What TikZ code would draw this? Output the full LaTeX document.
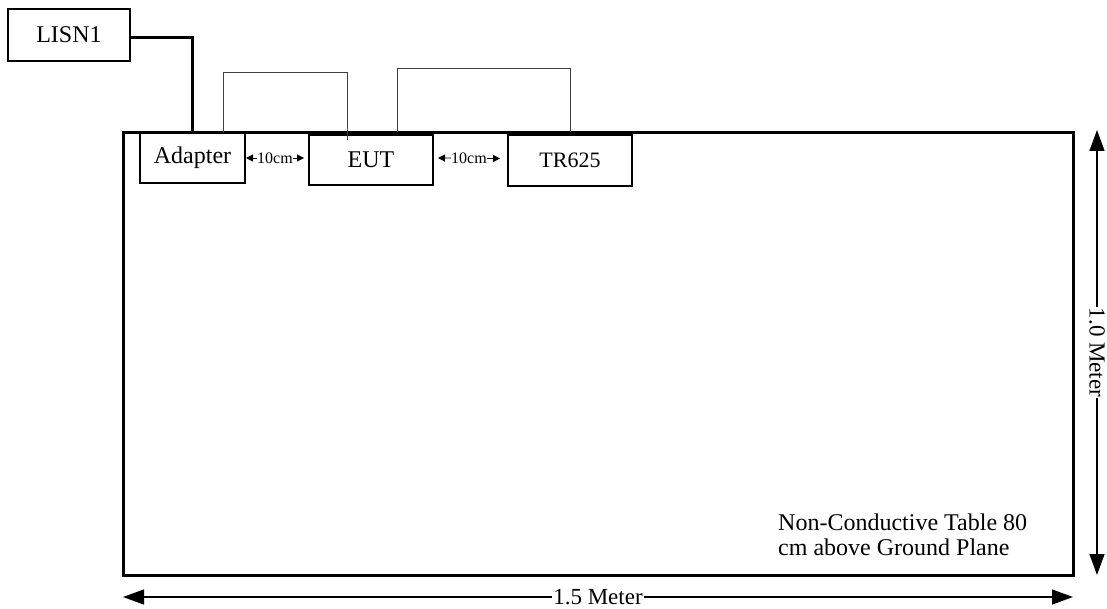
\documentclass[tikz,border=0pt]{standalone}
\usepackage{fontspec}
\setmainfont{Liberation Serif}
\usetikzlibrary{arrows.meta}

\begin{document}
\begin{tikzpicture}[x=1pt, y=-1pt, line join=miter,
	box/.style={draw, line width=1.3pt, fill=white, inner sep=0pt, outer sep=0pt, font=\fontsize{24}{26}\selectfont},
	tablebox/.style={draw, line width=3pt, inner sep=0pt, outer sep=0pt},
	cable/.style={line width=0.9pt, black!75},
	power/.style={line width=3pt},
	gap/.style={{Triangle[length=7pt,width=7pt]}-{Triangle[length=7pt,width=7pt]}, line width=0.8pt},
	gaplabel/.style={fill=white, inner xsep=0.5pt, inner ysep=0.5pt, font=\fontsize{16}{18}\selectfont},
	dim/.style={{Triangle[length=21pt,width=15pt]}-{Triangle[length=21pt,width=15pt]}, line width=1.3pt},
	dimlabel/.style={fill=white, inner xsep=1pt, inner ysep=0pt, font=\fontsize{23}{25}\selectfont}]
	
	% Page frame
	\useasboundingbox (0,0) rectangle (1107,609);
	
	% Table
	\node[tablebox, minimum width=950pt, minimum height=442pt] (table) at (598,354) {};
	
	% Equipment
	\node[box, minimum width=122pt, minimum height=52pt] (lisn) at (69,35) {LISN1};
	\node[box, minimum width=105pt, minimum height=50pt] (adapter) at (192.5,158) {Adapter};
	\node[box, minimum width=124pt, minimum height=50pt] (eut) at (371,160) {EUT};
	\node[box, minimum width=124pt, minimum height=51pt, font=\fontsize{22}{24}\selectfont] (tr) at (570,160.5) {TR625};
	
	% Cables
	\draw[power] ([yshift=-3pt]lisn.east) -| (adapter.north);
	\draw[cable] ([xshift=30.5pt]adapter.north) -- ++(0,-61) -| ([xshift=-24pt,yshift=-5pt]eut.north);
	\draw[cable] ([xshift=26pt,yshift=3pt]eut.north) -- ++(0,-64) -| ([yshift=3pt]tr.north);
	
	% Spacing between units
	\draw[gap] ([xshift=1pt]adapter.east) -- ([xshift=-5pt,yshift=2pt]eut.west)
		node[midway, gaplabel] {10cm};
	\draw[gap] ([xshift=5pt,yshift=2pt]eut.east) -- ([xshift=-8pt,yshift=2pt]tr.west)
		node[midway, gaplabel] {10cm};
	
	% Note
	\node[anchor=north west, align=left, inner sep=0pt, font=\fontsize{24}{25}\selectfont] (note) at (778,514)
		{Non-Conductive Table 80\\cm above Ground Plane};
	
	% Dimensions
	\coordinate (vtop) at ([xshift=24pt,yshift=3pt]table.north east);
	\coordinate (vbot) at ([xshift=24pt]table.south east);
	\coordinate (hleft) at ([yshift=-22pt]table.south west);
	\coordinate (hright) at ([yshift=-22pt]table.south east);
	\draw[dim] (vtop) -- (vbot) node[midway, dimlabel, rotate=-90] {1.0 Meter};
	\draw[dim] (hleft) -- (hright) node[midway, dimlabel] {1.5 Meter};
	
\end{tikzpicture}
\end{document}
